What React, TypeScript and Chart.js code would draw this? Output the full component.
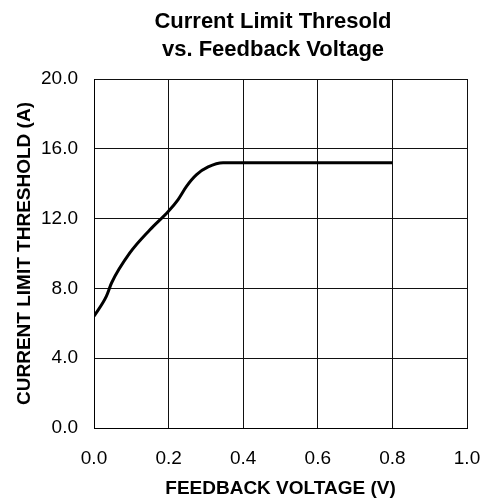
import React, { useEffect, useRef } from "react";
import { Chart, registerables } from "chart.js";

Chart.register(...registerables);

const titleLines = ["Current Limit Thresold", "vs. Feedback Voltage"];
const xAxisTitle = "FEEDBACK VOLTAGE (V)";
const yAxisTitle = "CURRENT LIMIT THRESHOLD (A)";

const feedbackVoltage = [0, 0.033, 0.047, 0.096, 0.15, 0.199, 0.225, 0.248, 0.275, 0.306, 0.346, 0.8];
const currentLimit = [6.4, 7.54, 8.31, 10.03, 11.36, 12.41, 13.08, 13.85, 14.52, 14.96, 15.2, 15.2];

const xMin = 0, xMax = 1, xStep = 0.2;
const yMin = 0, yMax = 20, yStep = 4;

const FONT = "'Liberation Sans', Arial, sans-serif";

const titlePlugin = {
  id: "twoLineTitle",
  afterDraw(chart: any) {
    const ctx = chart.ctx;
    ctx.save();
    ctx.fillStyle = "#000";
    ctx.font = `bold 22px ${FONT}`;
    ctx.textAlign = "center";
    ctx.textBaseline = "alphabetic";
    ctx.fillText(titleLines[0], 273, 28);
    ctx.fillText(titleLines[1], 273, 56);
    ctx.restore();
  },
};

export default function App() {
  const ref = useRef<HTMLCanvasElement>(null);
  useEffect(() => {
    const canvas = ref.current!;
    const chart = new Chart(canvas, {
      type: "line",
      data: {
        datasets: [
          {
            data: feedbackVoltage.map((v, i) => ({ x: v, y: currentLimit[i] })),
            borderColor: "#000",
            borderWidth: 3,
            pointRadius: 0,
            cubicInterpolationMode: "monotone",
            fill: false,
          },
        ],
      },
      options: {
        animation: false,
        responsive: false,
        devicePixelRatio: 1,
        layout: { padding: { top: 79, right: 20, left: 0, bottom: 0 } },
        plugins: { legend: { display: false }, title: { display: false }, tooltip: { enabled: false } },
        scales: {
          x: {
            type: "linear",
            min: xMin,
            max: xMax,
            ticks: {
              stepSize: xStep,
              padding: 19,
              color: "#000",
              font: { family: FONT, size: 19 },
              callback: (v: any) => Number(v).toFixed(1),
            },
            grid: { color: "#111", lineWidth: 1, drawTicks: false },
            border: { color: "#000", width: 1 },
            title: {
              display: true,
              text: xAxisTitle,
              color: "#000",
              font: { family: FONT, size: 19, weight: "bold", lineHeight: 1.0 },
              padding: { top: 4, bottom: 0 },
            },
            afterFit: (s: any) => {
              s.height = 70;
              s.paddingLeft = 0;
              s.paddingRight = 0;
            },
          },
          y: {
            type: "linear",
            min: yMin,
            max: yMax,
            ticks: {
              stepSize: yStep,
              padding: 16,
              color: "#000",
              font: { family: FONT, size: 19 },
              callback: (v: any) => Number(v).toFixed(1),
            },
            grid: { color: "#111", lineWidth: 1, drawTicks: false },
            border: { color: "#000", width: 1 },
            title: {
              display: true,
              text: yAxisTitle,
              color: "#000",
              font: { family: FONT, size: 19, weight: "bold" },
              padding: { top: 13, bottom: 0 },
            },
            afterFit: (s: any) => {
              s.width = 94;
              s.paddingTop = 0;
              s.paddingBottom = 0;
            },
          },
        },
      },
      plugins: [titlePlugin],
    } as any);
    return () => chart.destroy();
  }, []);
  return (
    <div style={{ position: "fixed", left: 0, top: 0, width: 487, height: 498, background: "#fff" }}>
      <canvas ref={ref} width={487} height={498} style={{ width: 487, height: 498, display: "block" }} />
    </div>
  );
}
